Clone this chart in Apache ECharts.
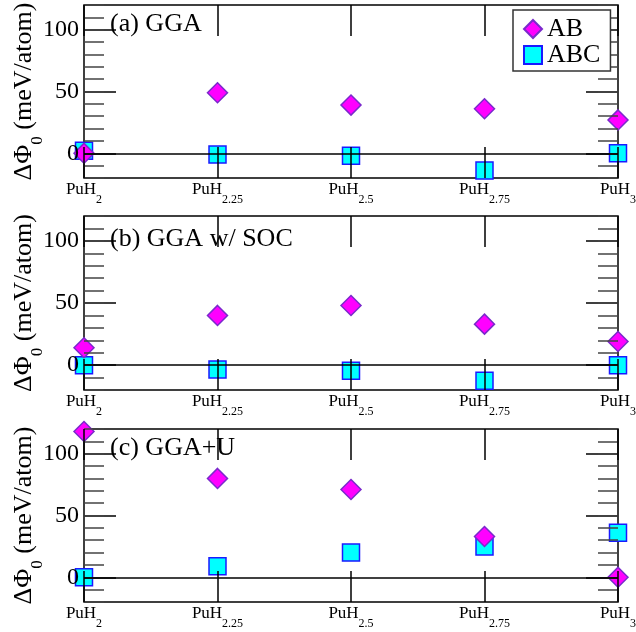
<!DOCTYPE html>
<html>
<head>
<meta charset="utf-8">
<script src="https://cdn.jsdelivr.net/npm/echarts@6/dist/echarts.min.js"></script>
<style>html,body{margin:0;padding:0;background:#fff}</style>
</head>
<body>
<div id="myChart" style="width:636px;height:632px"></div>
<script>
// x positions: H content of PuH_x
var hydrogen = [2, 2.25, 2.5, 2.75, 3]
var panelNames = ['(a) GGA', '(b) GGA w/ SOC', '(c) GGA+U']
var seriesNames = ['AB', 'ABC']

// ΔΦ0 in meV/atom
var abGGA = [0, 49, 39, 36, 27]
var abcGGA = [2, -1, -2, -14, 0]
var abSOC = [14, 40, 48, 33, 19]
var abcSOC = [0, -3.5, -4.5, -12.5, 0]
var abU = [118, 80, 71, 33, 0]
var abcU = [0, 9, 20, 25, 36]

var yMajorTicks = [0, 50, 100]

var abData = [abGGA, abSOC, abU]
var abcData = [abcGGA, abcSOC, abcU]

var font = "'Liberation Serif', 'Times New Roman', serif"
var gridTops = [5, 216, 429]
var gridHeights = [173, 174, 173]
var titleTops = [11, 226, 435]

var grids = [], xAxes = [], yAxes = [], series = [], titles = []

gridTops.forEach(function (top, i) {
  grids.push({
    left: 84, width: 534, top: top, height: gridHeights[i],
    outerBoundsMode: 'none', containLabel: false,
    show: true, borderColor: '#000', borderWidth: 1.5, backgroundColor: 'transparent'
  })

  titles.push({
    text: panelNames[i], left: 110, top: titleTops[i], padding: 0,
    textStyle: { fontFamily: font, fontWeight: 'normal', fontSize: 26, color: '#000', lineHeight: 26 }
  })

  ;['bottom', 'top'].forEach(function (pos) {
    xAxes.push({
      type: 'value', gridIndex: i, position: pos, min: 2, max: 3, interval: 0.25, z: 3,
      axisLine: { show: false, onZero: false },
      splitLine: { show: false },
      axisTick: { show: true, inside: true, length: 31, lineStyle: { color: '#000', width: 1.5 } },
      axisLabel: {
        show: pos === 'bottom', margin: 3, showMinLabel: true, showMaxLabel: true,
        formatter: function (v) { return '{m|PuH}{s|' + v + '}' },
        rich: {
          m: { fontFamily: font, fontSize: 17, color: '#000', lineHeight: 16, verticalAlign: 'top' },
          s: { fontFamily: font, fontSize: 12, color: '#000', lineHeight: 12, verticalAlign: 'top', padding: [13, 0, 0, 0] }
        }
      }
    })
  })

  ;['left', 'right'].forEach(function (pos) {
    // major ticks + labels
    yAxes.push({
      type: 'value', gridIndex: i, position: pos, min: -20, max: 120, interval: 10, z: 3,
      axisLine: { show: false, onZero: false },
      splitLine: { show: false },
      axisTick: { show: true, inside: true, length: 32, customValues: yMajorTicks, lineStyle: { color: '#000', width: 1.5 } },
      axisLabel: {
        show: pos === 'left', customValues: yMajorTicks, margin: 5,
        fontFamily: font, fontSize: 24, color: '#000'
      },
      name: pos === 'left' ? '{m|ΔΦ}{s|0}{m| (meV/atom)}' : '',
      nameLocation: 'middle', nameRotate: 90, nameGap: 47, nameMoveOverlap: false,
      nameTextStyle: {
        rich: {
          m: { fontFamily: font, fontSize: 26, color: '#000', lineHeight: 26, verticalAlign: 'top' },
          s: { fontFamily: font, fontSize: 17, color: '#000', lineHeight: 16, verticalAlign: 'top', padding: [18, 0, 0, 0] }
        }
      }
    })
    // minor ticks
    yAxes.push({
      type: 'value', gridIndex: i, position: pos, min: -20, max: 120, interval: 10, z: 3,
      axisLine: { show: false, onZero: false },
      splitLine: { show: false },
      axisTick: { show: true, inside: true, length: 20, lineStyle: { color: '#444', width: 1.5 } },
      axisLabel: { show: false }
    })
  })

  series.push({
    name: 'ABC', type: 'scatter', xAxisIndex: i * 2, yAxisIndex: i * 4,
    symbol: 'rect', symbolSize: 17, clip: false,
    itemStyle: { color: '#00ffff', borderColor: '#1a1aff', borderWidth: 1.5, opacity: 1 },
    data: hydrogen.map(function (h, k) { return [h, abcData[i][k]] }),
    markLine: {
      silent: true, symbol: 'none', z: 5,
      label: { show: false },
      lineStyle: { color: '#000', width: 1.5, type: 'solid' },
      emphasis: { disabled: true },
      data: [{ yAxis: 0 }]
    }
  })
  series.push({
    name: 'AB', type: 'scatter', xAxisIndex: i * 2, yAxisIndex: i * 4,
    symbol: 'diamond', symbolSize: 20, clip: false,
    itemStyle: { color: '#ff00ff', borderColor: '#7a2acb', borderWidth: 1.5, opacity: 1 },
    data: hydrogen.map(function (h, k) { return [h, abData[i][k]] })
  })
})

var myChart = echarts.init(document.getElementById('myChart'))

myChart.setOption({
  animation: false,
  title: titles,
  grid: grids,
  xAxis: xAxes,
  yAxis: yAxes,
  legend: {
    orient: 'vertical', left: 513, top: 10,
    padding: [6, 10, 3, 10], itemGap: 0, itemWidth: 18, itemHeight: 18,
    borderColor: '#333', borderWidth: 1.5, backgroundColor: '#fff',
    textStyle: { fontFamily: font, fontSize: 26, color: '#000', lineHeight: 24 },
    data: [{ name: 'AB', icon: 'diamond' }, { name: 'ABC', icon: 'rect' }]
  },
  series: series
})
</script>
</body>
</html>
